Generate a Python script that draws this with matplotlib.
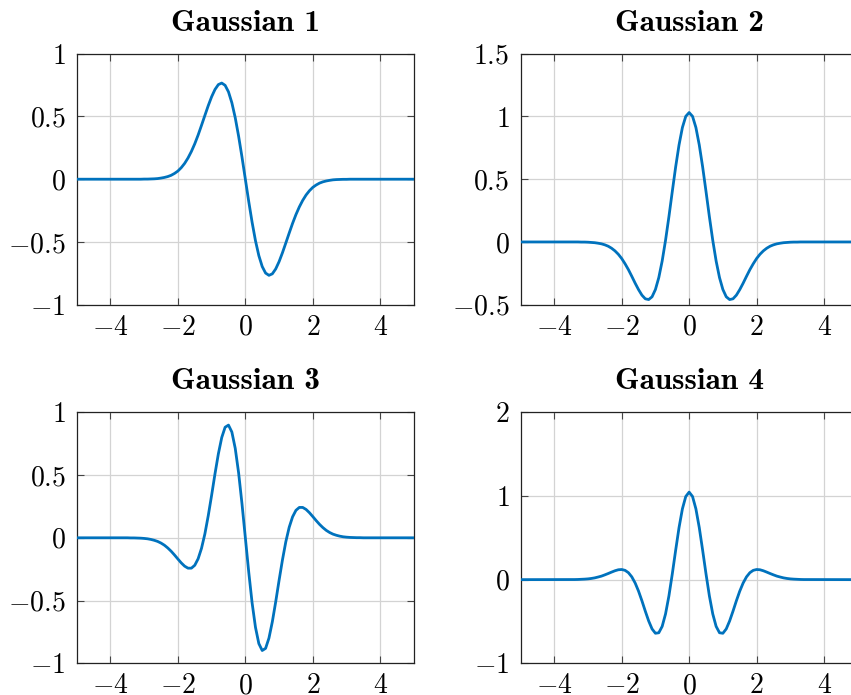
import numpy as np
import matplotlib
matplotlib.use("Agg")
import matplotlib.pyplot as plt
from matplotlib.ticker import FuncFormatter

plt.rcParams['font.family'] = ['cmr10', 'DejaVu Serif']
plt.rcParams['mathtext.fontset'] = 'cm'
plt.rcParams['axes.formatter.use_mathtext'] = True

# sample positions (x)
x_values = [-5.0] + [round(-3.5 + 0.1 * i, 1) for i in range(71)] + [5.0]

gauss1 = [0.0,
    0.000, 0.000, 0.000, 0.000, 0.000, 0.001, 0.001, 0.002, 0.003, 0.005,
    0.009, 0.014, 0.021, 0.031, 0.046, 0.065, 0.092, 0.126, 0.169, 0.221,
    0.282, 0.352, 0.429, 0.508, 0.586, 0.657, 0.715, 0.754, 0.766, 0.748,
    0.696, 0.609, 0.490, 0.343, 0.177, 0.000,
    -0.177, -0.343, -0.490, -0.609, -0.696,
    -0.748, -0.766, -0.754, -0.715, -0.657, -0.586, -0.508, -0.429, -0.352, -0.282,
    -0.221, -0.169, -0.126, -0.092, -0.065, -0.046, -0.031, -0.021, -0.014, -0.009,
    -0.005, -0.003, -0.002, -0.001, -0.001, 0.000, 0.000, 0.000, 0.000, 0.000,
    0.0]

gauss2 = [0.0,
    0.000, 0.000, 0.000, -0.001, -0.001, -0.002, -0.004, -0.006, -0.010, -0.015,
    -0.023, -0.034, -0.050, -0.071, -0.098, -0.132, -0.174, -0.221, -0.274, -0.329,
    -0.380, -0.424, -0.453, -0.459, -0.437, -0.379, -0.284, -0.152, 0.013, 0.201,
    0.402, 0.598, 0.773, 0.912, 1.001, 1.031,
    1.001, 0.912, 0.773, 0.598, 0.402,
    0.201, 0.013, -0.152, -0.284, -0.379, -0.437, -0.459, -0.453, -0.424, -0.380,
    -0.329, -0.274, -0.221, -0.174, -0.132, -0.098, -0.071, -0.050, -0.034, -0.023,
    -0.015, -0.010, -0.006, -0.004, -0.002, -0.001, -0.001, 0.000, 0.000, 0.000,
    0.0]

gauss3 = [0.0,
    0.000, -0.001, -0.001, -0.002, -0.003, -0.005, -0.008, -0.013, -0.020, -0.029,
    -0.042, -0.059, -0.081, -0.107, -0.137, -0.169, -0.200, -0.226, -0.242, -0.242,
    -0.219, -0.167, -0.084, 0.031, 0.176, 0.339, 0.510, 0.669, 0.799, 0.881,
    0.898, 0.843, 0.713, 0.518, 0.272, 0.000,
    -0.272, -0.518, -0.713, -0.843, -0.898,
    -0.881, -0.799, -0.669, -0.510, -0.339, -0.176, -0.031, 0.084, 0.167, 0.219,
    0.242, 0.242, 0.226, 0.200, 0.169, 0.137, 0.107, 0.081, 0.059, 0.042,
    0.029, 0.020, 0.013, 0.008, 0.005, 0.003, 0.002, 0.001, 0.001, 0.000,
    0.0]

gauss4 = [0.0,
    0.001, 0.001, 0.002, 0.004, 0.006, 0.009, 0.014, 0.021, 0.031, 0.042,
    0.057, 0.073, 0.090, 0.106, 0.118, 0.121, 0.111, 0.083, 0.033, -0.041,
    -0.138, -0.253, -0.377, -0.494, -0.589, -0.641, -0.635, -0.559, -0.410, -0.195,
    0.068, 0.351, 0.622, 0.846, 0.994, 1.046,
    0.994, 0.846, 0.622, 0.351, 0.068,
    -0.195, -0.410, -0.559, -0.635, -0.641, -0.589, -0.494, -0.377, -0.253, -0.138,
    -0.041, 0.033, 0.083, 0.111, 0.121, 0.118, 0.106, 0.090, 0.073, 0.057,
    0.042, 0.031, 0.021, 0.014, 0.009, 0.006, 0.004, 0.002, 0.001, 0.001,
    0.0]

titles = ["Gaussian 1", "Gaussian 2", "Gaussian 3", "Gaussian 4"]
series = [gauss1, gauss2, gauss3, gauss4]
x_ticks = [-4, -2, 0, 2, 4]
y_limits = [(-1, 1), (-0.5, 1.5), (-1, 1), (-1, 2)]
y_ticks = [[-1, -0.5, 0, 0.5, 1], [-0.5, 0, 0.5, 1, 1.5],
           [-1, -0.5, 0, 0.5, 1], [-1, 0, 1, 2]]

W, H = 851, 695
fig = plt.figure(figsize=(W / 100, H / 100), dpi=100)

boxes = [(76.7, 53.7), (520.5, 53.7), (76.7, 412.3), (520.5, 412.3)]
aw, ah = 337.3, 251.0

fmt = FuncFormatter(lambda v, p: "$%s$" % ("%g" % v))

for i in range(4):
    left, top = boxes[i]
    ax = fig.add_axes([left / W, (H - top - ah) / H, aw / W, ah / H])
    ax.plot(x_values, series[i], color='#0072BD', lw=2.0, zorder=3,
            solid_joinstyle='round')
    ax.set_xlim(-5, 5)
    ax.set_ylim(*y_limits[i])
    ax.set_xticks(x_ticks)
    ax.set_yticks(y_ticks[i])
    ax.xaxis.set_major_formatter(fmt)
    ax.yaxis.set_major_formatter(fmt)
    ax.grid(True, color='#d3d3d3', lw=0.9, zorder=0)
    ax.set_axisbelow(True)
    ax.tick_params(direction='in', length=5, width=0.8, color='#444444',
                   top=True, right=True, labelsize=20)
    ax.tick_params(axis='x', pad=7)
    ax.tick_params(axis='y', pad=8)
    for s in ax.spines.values():
        s.set_linewidth(0.9)
        s.set_color('#222222')
    ax.set_title(titles[i], fontfamily='cmb10', fontsize=22.5, pad=16.5)

fig.savefig("out.png", dpi=100)
